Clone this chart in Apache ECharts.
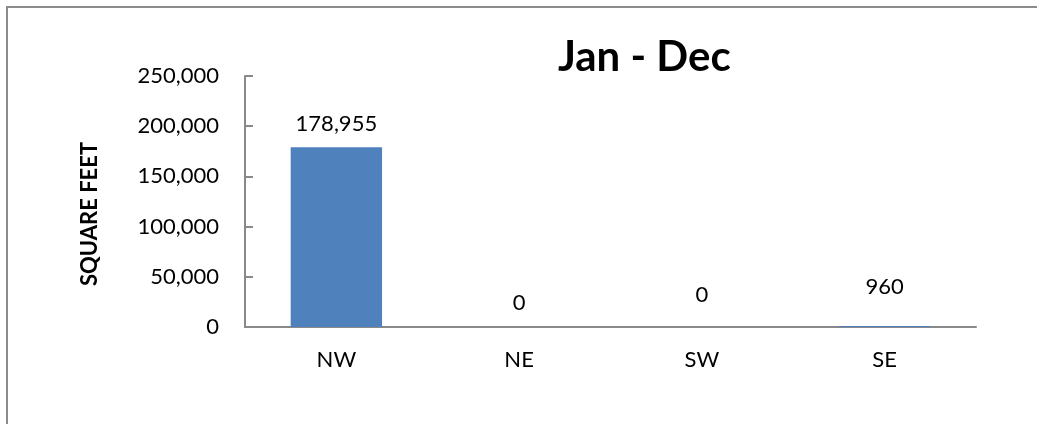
<!DOCTYPE html>
<html>
<head>
<meta charset="utf-8">
<script src="https://cdn.jsdelivr.net/npm/echarts@6/dist/echarts.min.js"></script>
<style>
html,body{margin:0;padding:0;background:#fff;}
#chart{width:1037px;height:424px;}
</style>
</head>
<body>
<div id="chart"></div>
<script>
const categories = ['NW', 'NE', 'SW', 'SE'];
const values = [178955, 0, 0, 960];
const yTicks = [0, 50000, 100000, 150000, 200000, 250000];
const titleText = 'Jan - Dec';
const yAxisTitle = 'SQUARE FEET';
// label distances above each bar (style only)
const labelDistances = [12, 13, 21, 28];

const fmt = v => v.toLocaleString('en-US');
const FONT = 'Lato';

const chart = echarts.init(document.getElementById('chart'));
chart.setOption({
  animation: false,
  backgroundColor: '#ffffff',
  title: {
    text: titleText,
    left: 553,
    top: 31,
    textStyle: { fontFamily: FONT, fontWeight: 'bold', fontSize: 42, color: '#000' }
  },
  grid: { left: 245, right: 61, top: 76, bottom: 97, containLabel: false },
  xAxis: {
    type: 'category',
    data: categories,
    axisLine: { show: true, lineStyle: { color: '#898989', width: 2 } },
    axisTick: { show: false },
    axisLabel: { fontFamily: FONT, fontSize: 22, color: '#000', margin: 22 }
  },
  yAxis: {
    type: 'value',
    min: yTicks[0],
    max: yTicks[yTicks.length - 1],
    interval: yTicks[1] - yTicks[0],
    axisLine: { show: true, lineStyle: { color: '#898989', width: 2 } },
    axisTick: { show: true, inside: true, length: 8, lineStyle: { color: '#898989', width: 2 } },
    splitLine: { show: false },
    axisLabel: { fontFamily: FONT, fontSize: 22, color: '#000', margin: 26, formatter: fmt }
  },
  graphic: [
    {
      type: 'rect',
      shape: { x: 7, y: 7, width: 1200, height: 600 },
      style: { fill: 'none', stroke: '#8c8c8c', lineWidth: 2 },
      silent: true
    },
    {
      type: 'text',
      x: 90, y: 214,
      rotation: Math.PI / 2,
      style: {
        text: yAxisTitle,
        fontFamily: FONT, fontWeight: 'bold', fontSize: 22, fill: '#000',
        textAlign: 'center', textVerticalAlign: 'middle'
      }
    }
  ],
  series: [{
    type: 'bar',
    barWidth: '50%',
    data: values.map((v, i) => ({
      value: v,
      label: { distance: labelDistances[i] }
    })),
    itemStyle: { color: '#4F81BD' },
    label: {
      show: true,
      position: 'top',
      fontFamily: FONT, fontSize: 22, color: '#000',
      formatter: p => fmt(p.value)
    }
  }]
});
</script>
</body>
</html>
